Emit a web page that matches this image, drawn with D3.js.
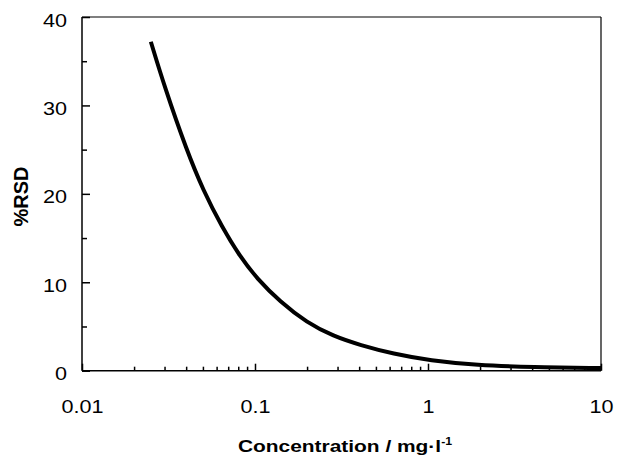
<!DOCTYPE html>
<html>
<head>
<meta charset="utf-8">
<script src="https://cdn.jsdelivr.net/npm/d3@7"></script>
<style>
  body { margin: 0; background: #fff; }
  .axis path, .axis line { stroke: #000; stroke-width: 1.5; }
  .axis text { font-family: "Liberation Sans", Arial, sans-serif; font-size: 18px; fill: #000; }
  .line { fill: none; stroke: #000; stroke-width: 4; stroke-linejoin: round; stroke-linecap: butt; }
</style>
</head>
<body>
<div class="graph"></div>
<script>
// data
const conc = [0.025, 0.03, 0.0403, 0.0502, 0.0642, 0.0819, 0.1023, 0.1395, 0.199, 0.284, 0.405, 0.63, 1.03, 1.91, 4.0, 10];
const rsd  = [37.2, 32.1, 24.9, 20.4, 16.3, 12.9, 10.45, 7.8, 5.45, 3.9, 2.9, 1.9, 1.15, 0.62, 0.4, 0.3];

const xMajor = [0.01, 0.1, 1, 10];
const xMinor = [0.02, 0.03, 0.04, 0.05, 0.06, 0.07, 0.08, 0.09,
                0.2, 0.3, 0.4, 0.5, 0.6, 0.7, 0.8, 0.9,
                2, 3, 4, 5, 6, 7, 8, 9];
const yMajor = [0, 10, 20, 30, 40];
const yMinor = [5, 15, 25, 35];

const margin = {top: 17, right: 18, bottom: 88.3, left: 82},
  width = 619 - margin.left - margin.right,
  height = 459 - margin.top - margin.bottom;

const svg = d3.select(".graph").append("svg")
  .attr("width", 619)
  .attr("height", 459);

const g = svg.append("g")
  .attr("transform", "translate(" + margin.left + "," + margin.top + ")");

const x = d3.scaleLog().domain([0.01, 10]).range([0, width]),
      y = d3.scaleLinear().domain([0, 40]).range([height, 0]);

// frame (top / right thinner)
g.append("line").attr("x1", 0).attr("x2", width).attr("y1", 0).attr("y2", 0)
  .attr("stroke", "#000").attr("stroke-width", 1.2);
g.append("line").attr("x1", width).attr("x2", width).attr("y1", 0).attr("y2", height)
  .attr("stroke", "#000").attr("stroke-width", 1.2);

// x axis
const xAxis = d3.axisBottom(x).tickValues(xMajor).tickSize(-7).tickPadding(0)
  .tickFormat(d => String(d));
const gx = g.append("g")
    .attr("class", "x axis")
    .attr("transform", "translate(0," + height + ")")
    .call(xAxis);
gx.selectAll("text")
  .attr("y", 42.3).attr("dy", null)
  .attr("transform", "scale(1.2,1)");

g.append("g")
    .attr("class", "x axis minor")
    .attr("transform", "translate(0," + height + ")")
    .call(d3.axisBottom(x).tickValues(xMinor).tickSize(-4).tickFormat(""))
  .select(".domain").remove();

// y axis
const yAxis = d3.axisLeft(y).tickValues(yMajor).tickSize(-8).tickPadding(0);
const gy = g.append("g")
    .attr("class", "y axis")
    .call(yAxis);
gy.selectAll("text")
  .attr("dy", "9")
  .attr("transform", "scale(1.2,1)")
  .attr("x", -15 / 1.2);

g.append("g")
    .attr("class", "y axis minor")
    .call(d3.axisLeft(y).tickValues(yMinor).tickSize(-5).tickFormat(""))
  .select(".domain").remove();

gx.select(".domain").attr("d", "M0,0H" + width);
gy.select(".domain").attr("d", "M0," + height + "V0");

// curve
const data = conc.map((c, i) => ({x: c, y: rsd[i]}));
const line = d3.line()
  .curve(d3.curveBasis)
  .x(d => x(d.x))
  .y(d => y(d.y));

g.append("path")
  .datum(data)
  .attr("class", "line")
  .attr("d", line);

// axis titles
const title = svg.append("text")
  .attr("transform", "translate(345,452) scale(1.23,1)")
  .attr("text-anchor", "middle")
  .style("font-family", "'Liberation Sans', Arial, sans-serif")
  .style("font-weight", "bold")
  .style("font-size", "17px");
title.append("tspan").text("Concentration / mg\u00b7l");
title.append("tspan").attr("dy", -7).style("font-size", "10px").text("-1");

svg.append("text")
  .attr("transform", "translate(28,196.5) rotate(-90)")
  .attr("text-anchor", "middle")
  .style("font-family", "'Liberation Sans', Arial, sans-serif")
  .style("font-weight", "bold")
  .style("font-size", "20px")
  .text("%RSD");
</script>
</body>
</html>
